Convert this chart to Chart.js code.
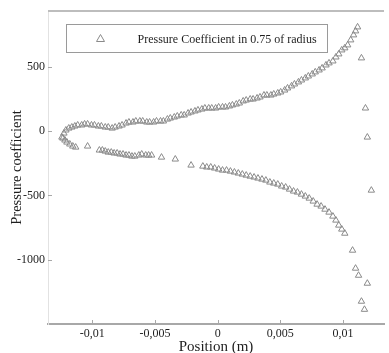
<!DOCTYPE html>
<html>
<head>
<meta charset="utf-8">
<script src="https://cdn.jsdelivr.net/npm/chart.js@4"></script>
<style>
  body { margin: 0; background: #fff; }
</style>
</head>
<body>
<canvas id="cpChart" width="389" height="353"></canvas>
<script>
// pressure coefficient at 0.75 of radius
const posUpper = [-0.01243, -0.01227, -0.01211, -0.01188, -0.01164, -0.01140, -0.01117, -0.01085, -0.01062, -0.01038,
    -0.01007, -0.00983, -0.00952, -0.00928, -0.00897, -0.00873, -0.00842, -0.00818, -0.00787, -0.00763,
    -0.00731, -0.00708, -0.00676, -0.00653, -0.00621, -0.00598, -0.00566, -0.00543, -0.00511, -0.00488,
    -0.00456, -0.00433, -0.00401, -0.00378, -0.00346, -0.00322, -0.00291, -0.00267, -0.00236, -0.00212,
    -0.00181, -0.00157, -0.00126, -0.00102, -0.00071, -0.00047, -0.00016, 0.00008, 0.00039, 0.00063,
    0.00094, 0.00118, 0.00149, 0.00173, 0.00204, 0.00228, 0.00260, 0.00283, 0.00315, 0.00338,
    0.00370, 0.00393, 0.00425, 0.00448, 0.00480, 0.00503, 0.00535, 0.00558, 0.00590, 0.00613,
    0.00645, 0.00669, 0.00700, 0.00724, 0.00755, 0.00779, 0.00810, 0.00834, 0.00865, 0.00889,
    0.00920, 0.00944, 0.00967, 0.00991, 0.01015, 0.01038, 0.01062, 0.01085, 0.01101, 0.01117];
const cpUpper = [-47, -16, 8, 23, 31, 39, 47, 47, 55, 55,
    47, 47, 39, 39, 31, 31, 23, 31, 39, 47,
    62, 70, 70, 78, 78, 78, 70, 70, 70, 78,
    78, 78, 93, 101, 109, 117, 125, 125, 140, 148,
    156, 164, 171, 179, 179, 179, 179, 187, 187, 187,
    195, 203, 210, 218, 234, 241, 249, 249, 257, 265,
    280, 280, 280, 288, 296, 304, 319, 335, 351, 366,
    382, 397, 413, 428, 444, 460, 475, 491, 514, 530,
    545, 576, 600, 631, 647, 670, 709, 748, 779, 810];

const posLower = [-0.01235, -0.01219, -0.01203, -0.01180, -0.01156, -0.01133, -0.01038, -0.00944, -0.00920, -0.00897,
    -0.00873, -0.00849, -0.00826, -0.00802, -0.00779, -0.00755, -0.00731, -0.00708, -0.00684, -0.00661,
    -0.00629, -0.00606, -0.00574, -0.00551, -0.00527, -0.00448, -0.00338, -0.00212, -0.00118, -0.00087,
    -0.00055, -0.00024, 0.00008, 0.00039, 0.00071, 0.00102, 0.00134, 0.00165, 0.00197, 0.00228,
    0.00260, 0.00291, 0.00322, 0.00354, 0.00385, 0.00417, 0.00448, 0.00480, 0.00511, 0.00543,
    0.00574, 0.00606, 0.00637, 0.00669, 0.00700, 0.00731, 0.00763, 0.00794, 0.00826, 0.00857,
    0.00889, 0.00920, 0.00944, 0.00967, 0.00991, 0.01015, 0.01077, 0.01101, 0.01125, 0.01148,
    0.01172];
const cpLower = [-55, -70, -86, -101, -117, -125, -117, -148, -148, -156,
    -164, -164, -171, -171, -179, -179, -187, -187, -195, -195,
    -187, -179, -187, -187, -187, -203, -218, -265, -273, -280,
    -280, -288, -296, -304, -304, -312, -319, -327, -335, -343,
    -351, -358, -366, -374, -382, -397, -405, -413, -428, -436,
    -452, -467, -475, -491, -506, -522, -545, -569, -584, -608,
    -631, -662, -693, -732, -763, -795, -927, -1067, -1122, -1324,
    -1387];

// scattered points at the trailing edge
const posEdge = [0.01148, 0.01180, 0.01195, 0.01227, 0.01195];
const cpEdge = [569, 179, -47, -460, -1184];

const xTicks = [-0.01, -0.005, 0, 0.005, 0.01];
const xTickLabels = ['-0,01', '-0,005', '0', '0,005', '0,01'];
const yTicks = [-1000, -500, 0, 500];
const yTickLabels = ['-1000', '-500', '0', '500'];

const seriesLabel = 'Pressure Coefficient in 0.75 of radius';

function toPoints(xs, ys) {
    return xs.map((x, i) => ({ x: x, y: ys[i] }));
}

const points = toPoints(posUpper, cpUpper)
    .concat(toPoints(posLower, cpLower))
    .concat(toPoints(posEdge, cpEdge));

const serif = 'Liberation Serif, Times New Roman, serif';
const markColor = '#8a8a8a';

// top frame line, inward tick marks and the boxed legend
const decorations = {
    id: 'decorations',
    afterDraw(chart) {
        const ctx = chart.ctx;
        const area = chart.chartArea;
        const xs = chart.scales.x;
        const ys = chart.scales.y;
        ctx.save();

        ctx.strokeStyle = '#bdbdbd';
        ctx.lineWidth = 2;
        ctx.beginPath();
        ctx.moveTo(area.left, area.top);
        ctx.lineTo(area.right, area.top);
        ctx.stroke();

        ctx.strokeStyle = '#a8a8a8';
        ctx.lineWidth = 1;
        ctx.beginPath();
        xTicks.forEach(v => {
            const px = Math.round(xs.getPixelForValue(v)) + 0.5;
            ctx.moveTo(px, area.bottom);
            ctx.lineTo(px, area.bottom - 4);
        });
        yTicks.forEach(v => {
            const py = Math.round(ys.getPixelForValue(v)) + 0.5;
            ctx.moveTo(area.left, py);
            ctx.lineTo(area.left + 4, py);
        });
        ctx.stroke();

        // legend box
        const bx = area.left + 18.5, by = area.top + 13.5, bw = 261, bh = 28;
        ctx.strokeStyle = '#9a9a9a';
        ctx.lineWidth = 1;
        ctx.strokeRect(bx, by, bw, bh);

        const tx = bx + 34, ty = by + bh / 2;
        ctx.strokeStyle = markColor;
        ctx.beginPath();
        ctx.moveTo(tx, ty - 4);
        ctx.lineTo(tx + 4, ty + 3);
        ctx.lineTo(tx - 4, ty + 3);
        ctx.closePath();
        ctx.stroke();

        ctx.fillStyle = '#1e1e1e';
        ctx.font = '12px ' + serif;
        ctx.textBaseline = 'middle';
        ctx.textAlign = 'left';
        ctx.fillText(seriesLabel, bx + 71, ty + 1);
        ctx.restore();
    }
};

new Chart(document.getElementById('cpChart'), {
    type: 'scatter',
    data: {
        datasets: [{
            label: seriesLabel,
            data: points,
            pointStyle: 'triangle',
            pointRadius: 3.7,
            borderWidth: 1,
            borderColor: markColor,
            backgroundColor: 'rgba(0,0,0,0)',
        }],
    },
    options: {
        responsive: false,
        animation: false,
        devicePixelRatio: 1,
        layout: { padding: { top: 11, right: 0, left: 0, bottom: 0 } },
        plugins: {
            legend: { display: false },
            tooltip: { enabled: false },
        },
        scales: {
            x: {
                type: 'linear',
                min: -0.01354,
                max: 0.01328,
                afterFit: s => { s.height = 29; },
                afterBuildTicks: s => { s.ticks = xTicks.map(v => ({ value: v })); },
                grid: { display: false, drawTicks: false },
                border: { display: true, color: '#a8a8a8', width: 2 },
                ticks: {
                    padding: 3,
                    color: '#1e1e1e',
                    font: { family: serif, size: 12 },
                    maxRotation: 0,
                    callback: v => xTickLabels[xTicks.indexOf(v)],
                },
                title: {
                    display: true,
                    text: 'Position (m)',
                    color: '#1e1e1e',
                    font: { family: serif, size: 15, lineHeight: 1 },
                    padding: { top: 0, bottom: -2 },
                },
            },
            y: {
                type: 'linear',
                min: -1500,
                max: 935,
                afterFit: s => { s.width = 48; },
                afterBuildTicks: s => { s.ticks = yTicks.map(v => ({ value: v })); },
                grid: { display: false, drawTicks: false },
                border: { display: true, color: '#e2e2e2', width: 1 },
                ticks: {
                    padding: 3,
                    color: '#1e1e1e',
                    font: { family: serif, size: 12 },
                    callback: v => yTickLabels[yTicks.indexOf(v)],
                },
                title: {
                    display: true,
                    text: 'Pressure coefficient',
                    color: '#1e1e1e',
                    font: { family: serif, size: 14.5, lineHeight: 1.2 },
                    padding: { top: 8, bottom: 0 },
                },
            },
        },
    },
    plugins: [decorations],
});
</script>
</body>
</html>
